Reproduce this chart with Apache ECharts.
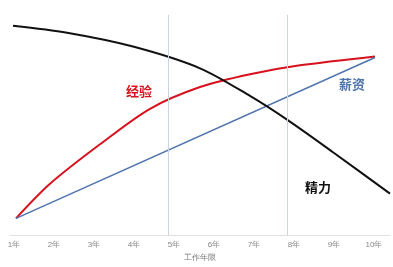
<!DOCTYPE html>
<html><head><meta charset="utf-8">
<script src="https://cdn.jsdelivr.net/npm/echarts@6/dist/echarts.min.js"></script>
<style>html,body{margin:0;padding:0;background:#fff}#c{width:393px;height:267px}</style>
</head><body><div id="c"></div>
<script>
var xTicks = [1,2,3,4,5,6,7,8,9,10];
var tickLabels = ['1年','2年','3年','4年','5年','6年','7年','8年','9年','10年'];
var experience = [[1.05,17],[1.9,52],[3.15,92],[4.4,128],[5.65,150],[6.9,163],[8.15,172],[10.025,181]];
var salary = [[1.05,17],[10.025,180]];
var energy = [[0.975,212],[2.325,205],[3.975,191],[5.65,169],[6.9,141],[7.825,117],[8.975,84],[10.4,42]];
var markers = [4.85, 7.83];
var seriesNames = ['经验','薪资','精力'];

var chart = echarts.init(document.getElementById('c'));
chart.setOption({
  animation:false,
  grid:{left:10,right:3,top:15,bottom:29},
  xAxis:{type:'value',min:0.9,max:10.4,
    name:'工作年限',nameLocation:'middle',nameGap:17,
    nameTextStyle:{fontSize:8,color:'#777'},
    axisLine:{show:true,lineStyle:{color:'#e0e0e0'}},
    axisTick:{show:false},splitLine:{show:false},
    axisLabel:{customValues:xTicks,fontSize:8,color:'#888',margin:6,
      formatter:function(v){var i=xTicks.indexOf(Math.round(v));return i>=0?tickLabels[i]:'';}}
  },
  yAxis:{type:'value',min:0,max:223,show:false,splitLine:{show:false}},
  series:[
    {name:seriesNames[0],type:'line',data:experience,smooth:0.3,symbol:'none',
      lineStyle:{color:'#d7121c',width:2},
      markLine:{silent:true,symbol:'none',label:{show:false},
        lineStyle:{color:'#c9d5e3',width:1,type:'solid'},
        data:markers.map(function(m){return {xAxis:m};})}},
    {name:seriesNames[1],type:'line',data:salary,symbol:'none',
      lineStyle:{color:'#4f74ad',width:1.5}},
    {name:seriesNames[2],type:'line',data:energy,smooth:0.3,symbol:'none',
      lineStyle:{color:'#111',width:2}}
  ],
  graphic:[
    {type:'text',left:126,top:85,style:{text:seriesNames[0],fill:'#d7121c',font:'bold 13px "Noto Sans CJK SC"'}},
    {type:'text',left:339,top:78,style:{text:seriesNames[1],fill:'#4f74ad',font:'bold 13px "Noto Sans CJK SC"'}},
    {type:'text',left:305,top:181,style:{text:seriesNames[2],fill:'#111',font:'bold 13px "Noto Sans CJK SC"'}}
  ]
});
</script></body></html>
